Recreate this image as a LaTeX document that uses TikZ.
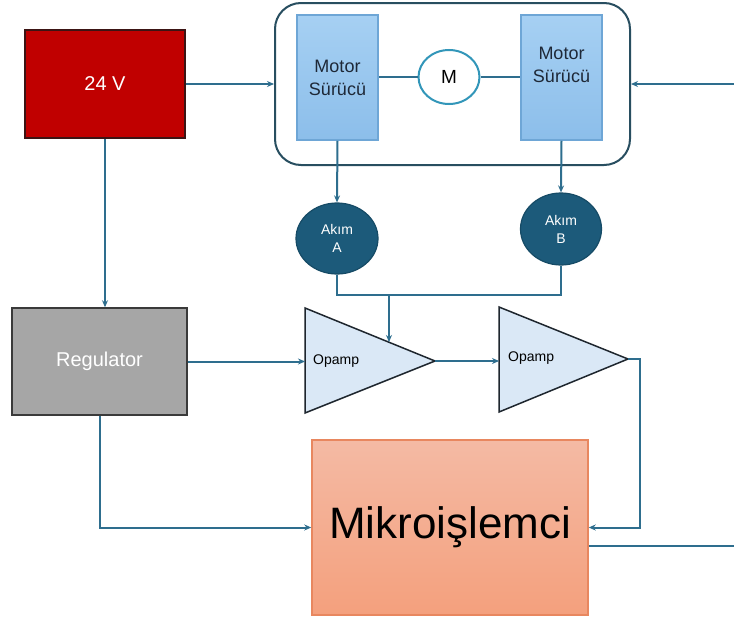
\documentclass[tikz,border=0pt]{standalone}
\usepackage{fontspec}
\setmainfont{Liberation Sans}
\usetikzlibrary{arrows.meta,shapes.geometric,calc}
\definecolor{conn}{RGB}{46,110,142}
\definecolor{bigbd}{RGB}{40,78,96}
\definecolor{redfill}{RGB}{192,0,0}
\definecolor{redbd}{RGB}{60,20,20}
\definecolor{regfill}{RGB}{166,166,166}
\definecolor{regbd}{RGB}{58,58,58}
\definecolor{drvtop}{RGB}{166,208,243}
\definecolor{drvbot}{RGB}{140,190,234}
\definecolor{drvbd}{RGB}{110,166,214}
\definecolor{drvtxt}{RGB}{30,40,55}
\definecolor{motbd}{RGB}{50,150,185}
\definecolor{akfill}{RGB}{28,90,122}
\definecolor{akbd}{RGB}{22,75,102}
\definecolor{opfill}{RGB}{218,232,246}
\definecolor{opbd}{RGB}{30,38,46}
\definecolor{miktop}{RGB}{244,186,164}
\definecolor{mikbot}{RGB}{244,160,125}
\definecolor{mikbd}{RGB}{232,135,95}
\newcommand{\fsz}[2]{\fontsize{#1}{#2}\selectfont}
\begin{document}
\begin{tikzpicture}[x=1pt,y=-1pt,
  conline/.style={draw=conn,line width=2pt},
  arr/.style={conline,-{Stealth[length=7pt,width=6pt]}},
  blk/.style={rectangle,inner sep=0pt,line width=1.5pt},
  drvbox/.style={blk,draw=drvbd,top color=drvtop,bottom color=drvbot,minimum width=81pt,minimum height=125pt},
  aknode/.style={ellipse,fill=akfill,draw=akbd,line width=1.2pt,text=white,align=center,font=\fsz{14}{18},inner sep=0pt},
  opamp/.style={fill=opfill,draw=opbd,line width=1.5pt,line join=miter},
  txt/.style={inner sep=0pt,font=\fsz{14}{17}}]
\useasboundingbox (0,0) rectangle (734,621);
\fill[white] (0,0) rectangle (734,621);

% big rounded enclosure
\node[draw=bigbd,line width=2pt,rounded corners=26pt,minimum width=355pt,minimum height=162pt,inner sep=0pt] (enc) at (452.5,84) {};

% motor drivers
\node[drvbox] (drvL) at (337.5,77.5) {};
\node[drvbox] (drvR) at (561.5,77.5) {};
\node[txt,align=center,font=\fsz{18}{23},text=drvtxt] (drvLt) at (337.5,78) {Motor\\Sürücü};
\node[txt,align=center,font=\fsz{18}{23},text=drvtxt] (drvRt) at (561.5,65) {Motor\\Sürücü};

% motor
\node[ellipse,draw=motbd,fill=white,line width=2pt,minimum width=61pt,minimum height=54pt,inner sep=0pt,font=\fsz{19}{22}] (mot) at (449,77) {M};
\draw[conline] (drvL.east |- mot.west) -- (mot.west);
\draw[conline] (mot.east) -- (drvR.west |- mot.east);

% 24 V
\node[blk,draw=redbd,fill=redfill,minimum width=160pt,minimum height=108pt,text=white,font=\fsz{20}{24}] (v24) at (105,84) {24 V};

% regulator
\node[blk,draw=regbd,fill=regfill,minimum width=175pt,minimum height=107pt,text=white,font=\fsz{20}{24}] (reg) at (99.5,361.5) {Regulator};

% current sensors
\node[aknode,minimum width=82pt,minimum height=71pt] (akA) at (337,238.5) {Akım\\A};
\node[aknode,minimum width=81pt,minimum height=72pt] (akB) at (561,229) {Akım\\B};

% opamps
\coordinate (op1a) at (305,308);
\coordinate (op1tip) at (435,361);
\coordinate (op1b) at (305,413);
\coordinate (op1in) at (389,342);
\draw[opamp] (op1a) -- (op1tip) -- (op1b) -- cycle;
\node[txt,anchor=west] (op1t) at (313,361) {Opamp};
\coordinate (op2a) at (499,307);
\coordinate (op2tip) at (628,359);
\coordinate (op2b) at (499,412);
\draw[opamp] (op2a) -- (op2tip) -- (op2b) -- cycle;
\node[txt,anchor=west] (op2t) at (508,358) {Opamp};

% microcontroller
\node[blk,draw=mikbd,top color=miktop,bottom color=mikbot,minimum width=276pt,minimum height=175pt,font=\fsz{44}{52}] (mik) at (450,527.5) {Mikroişlemci};

% connectors
\coordinate (rin) at (734,84);
\coordinate (rout) at (734,546);
\coordinate (jn) at (389,294.5);
\draw[arr] (v24.east) -- (enc.west);
\draw[arr] (rin) -- (enc.east);
\draw[arr] (v24.south) -- (v24.south |- reg.north);
\draw[arr] (drvL.south) -- (akA.north);
\draw[arr] (drvR.south) -- (akB.north);
\draw[conline] (akA.south) |- (jn) -| (akB.south);
\draw[arr] (jn) -- (op1in);
\draw[arr] (reg.east) -- (reg.east -| op1a);
\draw[arr] (op1tip) -- (op1tip -| op2a);
\draw[arr] (op2tip) -- ++(12,0) |- (mik.east);
\draw[arr] (reg.south) |- (mik.west);
\draw[conline] (mik.east |- rout) -- (rout);
\end{tikzpicture}
\end{document}
